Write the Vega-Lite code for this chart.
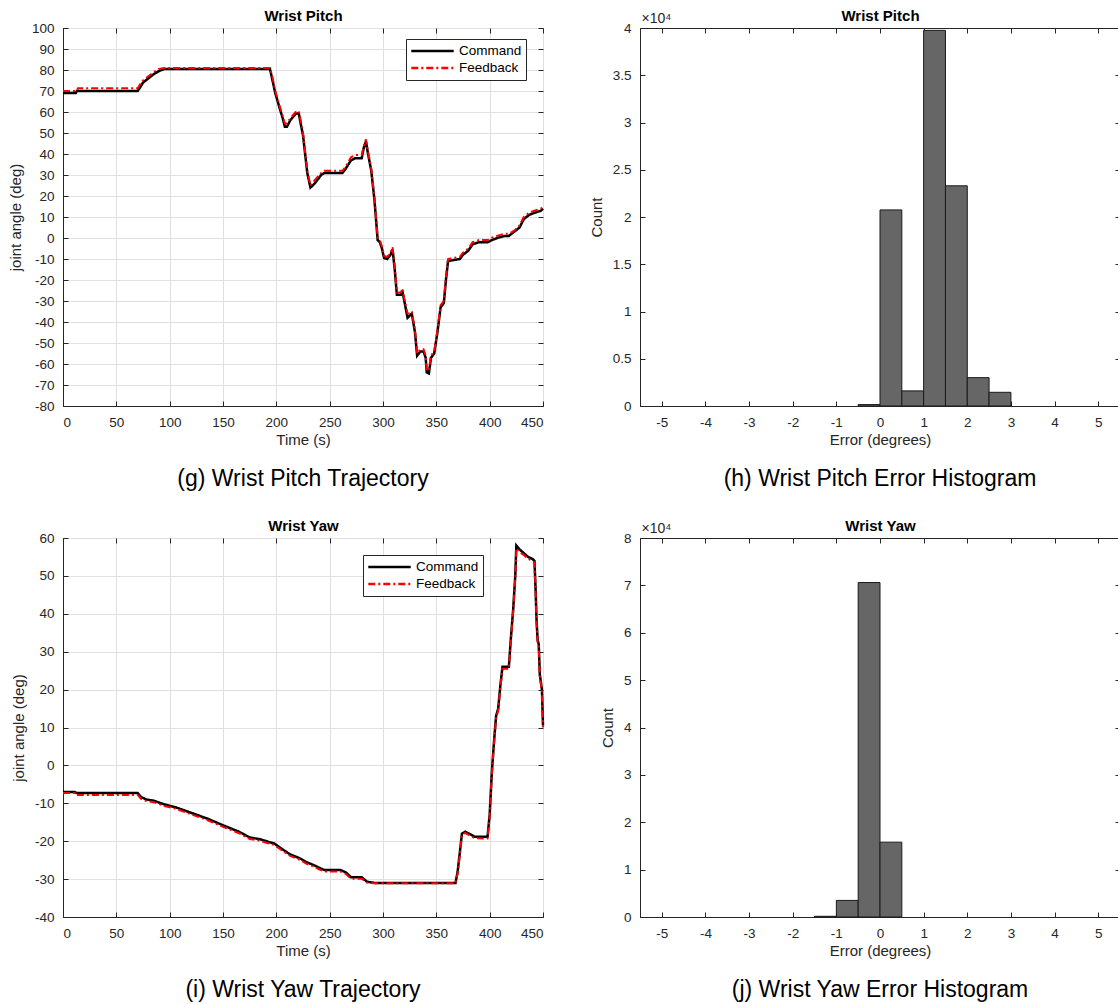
{
  "$schema": "https://vega.github.io/schema/vega-lite/v6.json",
  "background": "white",
  "padding": {"left": 7, "top": 8, "right": 0, "bottom": 0},
  "config": {
    "font": "Liberation Sans",
    "view": {"stroke": "#262626", "strokeWidth": 1},
    "axis": {"labelFontSize": 13.5, "labelColor": "#262626", "labelOverlap": false, "labelBound": false, "titleFontSize": 15, "titleFontWeight": "normal", "titleColor": "#262626", "domainColor": "#262626", "tickColor": "#262626", "gridColor": "#dfdfdf", "gridOpacity": 1, "gridWidth": 1, "tickSize": -5, "labelExpr": "'' + datum.value"},
    "legend": {"fillColor": "#ffffff", "strokeColor": "#262626", "padding": 4, "labelFontSize": 13.5, "labelColor": "#000000", "symbolType": "stroke", "symbolSize": 1800, "clipHeight": 16, "rowPadding": 1, "symbolStrokeWidth": 2.5, "labelOffset": 4, "cornerRadius": 0}
  },
  "resolve": {"scale": {"color": "independent", "strokeDash": "independent"}, "legend": {"color": "independent", "strokeDash": "independent"}},
  "datasets": {
    "pitch": [
      {"t":0,"v":69,"s":"Command"},{"t":12,"v":69,"s":"Command"},{"t":13,"v":70,"s":"Command"},{"t":70,"v":70,"s":"Command"},{"t":72,"v":71.5,"s":"Command"},{"t":75,"v":74,"s":"Command"},{"t":80,"v":76,"s":"Command"},{"t":85,"v":78,"s":"Command"},{"t":90,"v":79.5,"s":"Command"},{"t":95,"v":80.5,"s":"Command"},{"t":194,"v":80.5,"s":"Command"},{"t":196,"v":76,"s":"Command"},{"t":199,"v":69,"s":"Command"},{"t":203,"v":62,"s":"Command"},{"t":206,"v":57,"s":"Command"},{"t":208,"v":53,"s":"Command"},{"t":210,"v":53,"s":"Command"},{"t":213,"v":56,"s":"Command"},{"t":218,"v":59,"s":"Command"},{"t":221,"v":59.5,"s":"Command"},{"t":223,"v":54,"s":"Command"},{"t":225,"v":49,"s":"Command"},{"t":227,"v":40,"s":"Command"},{"t":229,"v":31,"s":"Command"},{"t":232,"v":24,"s":"Command"},{"t":236,"v":26,"s":"Command"},{"t":242,"v":30,"s":"Command"},{"t":245,"v":31,"s":"Command"},{"t":262,"v":31,"s":"Command"},{"t":265,"v":33,"s":"Command"},{"t":270,"v":37,"s":"Command"},{"t":274,"v":38,"s":"Command"},{"t":280,"v":38,"s":"Command"},{"t":282,"v":43,"s":"Command"},{"t":284,"v":46,"s":"Command"},{"t":286,"v":40,"s":"Command"},{"t":289,"v":32,"s":"Command"},{"t":292,"v":18,"s":"Command"},{"t":295,"v":-1,"s":"Command"},{"t":297,"v":-2,"s":"Command"},{"t":299,"v":-5,"s":"Command"},{"t":301,"v":-9.5,"s":"Command"},{"t":304,"v":-10,"s":"Command"},{"t":307,"v":-8,"s":"Command"},{"t":309,"v":-5.5,"s":"Command"},{"t":311,"v":-15,"s":"Command"},{"t":313,"v":-27,"s":"Command"},{"t":317,"v":-27,"s":"Command"},{"t":318,"v":-25,"s":"Command"},{"t":320,"v":-30,"s":"Command"},{"t":323,"v":-38,"s":"Command"},{"t":325,"v":-37,"s":"Command"},{"t":327,"v":-36,"s":"Command"},{"t":330,"v":-45,"s":"Command"},{"t":332,"v":-56,"s":"Command"},{"t":335,"v":-54,"s":"Command"},{"t":338,"v":-54,"s":"Command"},{"t":340,"v":-57,"s":"Command"},{"t":341,"v":-64,"s":"Command"},{"t":343,"v":-64.5,"s":"Command"},{"t":345,"v":-57,"s":"Command"},{"t":348,"v":-55,"s":"Command"},{"t":351,"v":-45,"s":"Command"},{"t":354,"v":-33,"s":"Command"},{"t":357,"v":-31,"s":"Command"},{"t":359,"v":-20,"s":"Command"},{"t":361,"v":-11,"s":"Command"},{"t":366,"v":-10.5,"s":"Command"},{"t":372,"v":-10,"s":"Command"},{"t":375,"v":-8,"s":"Command"},{"t":380,"v":-6,"s":"Command"},{"t":384,"v":-3,"s":"Command"},{"t":390,"v":-2,"s":"Command"},{"t":398,"v":-2,"s":"Command"},{"t":402,"v":-1,"s":"Command"},{"t":410,"v":0.5,"s":"Command"},{"t":414,"v":1,"s":"Command"},{"t":418,"v":1,"s":"Command"},{"t":423,"v":3,"s":"Command"},{"t":428,"v":5,"s":"Command"},{"t":432,"v":9,"s":"Command"},{"t":437,"v":11,"s":"Command"},{"t":442,"v":12,"s":"Command"},{"t":448,"v":13,"s":"Command"},{"t":450,"v":14,"s":"Command"},
      {"t":0,"v":70,"s":"Feedback"},{"t":13,"v":70,"s":"Feedback"},{"t":14,"v":71.3,"s":"Feedback"},{"t":70,"v":71.3,"s":"Feedback"},{"t":72,"v":73,"s":"Feedback"},{"t":75,"v":75,"s":"Feedback"},{"t":80,"v":77,"s":"Feedback"},{"t":85,"v":79,"s":"Feedback"},{"t":90,"v":80.5,"s":"Feedback"},{"t":95,"v":81,"s":"Feedback"},{"t":194,"v":81,"s":"Feedback"},{"t":196,"v":77.5,"s":"Feedback"},{"t":199,"v":70,"s":"Feedback"},{"t":203,"v":63,"s":"Feedback"},{"t":206,"v":58,"s":"Feedback"},{"t":208,"v":54.5,"s":"Feedback"},{"t":210,"v":54.5,"s":"Feedback"},{"t":213,"v":57,"s":"Feedback"},{"t":218,"v":60,"s":"Feedback"},{"t":221,"v":60.5,"s":"Feedback"},{"t":223,"v":55.5,"s":"Feedback"},{"t":225,"v":50,"s":"Feedback"},{"t":227,"v":41,"s":"Feedback"},{"t":229,"v":32,"s":"Feedback"},{"t":232,"v":25,"s":"Feedback"},{"t":236,"v":27.5,"s":"Feedback"},{"t":242,"v":31,"s":"Feedback"},{"t":245,"v":32,"s":"Feedback"},{"t":262,"v":32,"s":"Feedback"},{"t":265,"v":34,"s":"Feedback"},{"t":270,"v":38.5,"s":"Feedback"},{"t":274,"v":39.5,"s":"Feedback"},{"t":280,"v":39.5,"s":"Feedback"},{"t":282,"v":44,"s":"Feedback"},{"t":284,"v":47,"s":"Feedback"},{"t":286,"v":41,"s":"Feedback"},{"t":289,"v":33,"s":"Feedback"},{"t":292,"v":19,"s":"Feedback"},{"t":295,"v":0,"s":"Feedback"},{"t":297,"v":-1,"s":"Feedback"},{"t":299,"v":-4,"s":"Feedback"},{"t":301,"v":-8.5,"s":"Feedback"},{"t":304,"v":-9,"s":"Feedback"},{"t":307,"v":-7,"s":"Feedback"},{"t":309,"v":-4.5,"s":"Feedback"},{"t":311,"v":-14,"s":"Feedback"},{"t":313,"v":-26,"s":"Feedback"},{"t":317,"v":-26,"s":"Feedback"},{"t":318,"v":-24,"s":"Feedback"},{"t":320,"v":-29,"s":"Feedback"},{"t":323,"v":-36,"s":"Feedback"},{"t":325,"v":-36,"s":"Feedback"},{"t":327,"v":-35,"s":"Feedback"},{"t":330,"v":-44,"s":"Feedback"},{"t":332,"v":-55,"s":"Feedback"},{"t":335,"v":-53,"s":"Feedback"},{"t":338,"v":-53,"s":"Feedback"},{"t":340,"v":-56,"s":"Feedback"},{"t":341,"v":-63,"s":"Feedback"},{"t":343,"v":-63,"s":"Feedback"},{"t":345,"v":-56,"s":"Feedback"},{"t":348,"v":-54,"s":"Feedback"},{"t":351,"v":-44,"s":"Feedback"},{"t":354,"v":-32,"s":"Feedback"},{"t":357,"v":-30,"s":"Feedback"},{"t":359,"v":-19,"s":"Feedback"},{"t":361,"v":-10,"s":"Feedback"},{"t":366,"v":-9.5,"s":"Feedback"},{"t":372,"v":-9,"s":"Feedback"},{"t":375,"v":-7,"s":"Feedback"},{"t":380,"v":-5,"s":"Feedback"},{"t":384,"v":-2,"s":"Feedback"},{"t":390,"v":-1,"s":"Feedback"},{"t":398,"v":-1,"s":"Feedback"},{"t":402,"v":0.2,"s":"Feedback"},{"t":410,"v":1.5,"s":"Feedback"},{"t":414,"v":2,"s":"Feedback"},{"t":418,"v":2,"s":"Feedback"},{"t":423,"v":3.5,"s":"Feedback"},{"t":428,"v":6,"s":"Feedback"},{"t":432,"v":10,"s":"Feedback"},{"t":437,"v":12,"s":"Feedback"},{"t":442,"v":13,"s":"Feedback"},{"t":448,"v":14,"s":"Feedback"},{"t":450,"v":15,"s":"Feedback"}
    ],
    "yaw": [
      {"t":0,"v":-7,"s":"Command"},{"t":11,"v":-7,"s":"Command"},{"t":13,"v":-7.3,"s":"Command"},{"t":70,"v":-7.3,"s":"Command"},{"t":73,"v":-8.3,"s":"Command"},{"t":78,"v":-9,"s":"Command"},{"t":85,"v":-9.3,"s":"Command"},{"t":95,"v":-10.3,"s":"Command"},{"t":105,"v":-11,"s":"Command"},{"t":120,"v":-12.5,"s":"Command"},{"t":135,"v":-14,"s":"Command"},{"t":150,"v":-15.8,"s":"Command"},{"t":165,"v":-17.5,"s":"Command"},{"t":175,"v":-19,"s":"Command"},{"t":185,"v":-19.5,"s":"Command"},{"t":193,"v":-20.2,"s":"Command"},{"t":198,"v":-20.6,"s":"Command"},{"t":205,"v":-22,"s":"Command"},{"t":213,"v":-23.5,"s":"Command"},{"t":222,"v":-24.5,"s":"Command"},{"t":228,"v":-25.5,"s":"Command"},{"t":235,"v":-26.3,"s":"Command"},{"t":240,"v":-27,"s":"Command"},{"t":245,"v":-27.6,"s":"Command"},{"t":260,"v":-27.6,"s":"Command"},{"t":265,"v":-28.2,"s":"Command"},{"t":270,"v":-29.5,"s":"Command"},{"t":280,"v":-29.5,"s":"Command"},{"t":285,"v":-30.7,"s":"Command"},{"t":292,"v":-31,"s":"Command"},{"t":368,"v":-31,"s":"Command"},{"t":370,"v":-28,"s":"Command"},{"t":372,"v":-23,"s":"Command"},{"t":374,"v":-18,"s":"Command"},{"t":377,"v":-17.5,"s":"Command"},{"t":382,"v":-18.2,"s":"Command"},{"t":386,"v":-18.8,"s":"Command"},{"t":398,"v":-18.8,"s":"Command"},{"t":400,"v":-13,"s":"Command"},{"t":402,"v":-2,"s":"Command"},{"t":404,"v":6,"s":"Command"},{"t":406,"v":13,"s":"Command"},{"t":408,"v":15,"s":"Command"},{"t":410,"v":21,"s":"Command"},{"t":412,"v":26,"s":"Command"},{"t":418,"v":26,"s":"Command"},{"t":420,"v":34,"s":"Command"},{"t":422,"v":41,"s":"Command"},{"t":424,"v":50,"s":"Command"},{"t":425,"v":58,"s":"Command"},{"t":428,"v":57,"s":"Command"},{"t":432,"v":56,"s":"Command"},{"t":436,"v":55,"s":"Command"},{"t":440,"v":54.5,"s":"Command"},{"t":442,"v":54,"s":"Command"},{"t":443,"v":47,"s":"Command"},{"t":444,"v":38,"s":"Command"},{"t":445,"v":33,"s":"Command"},{"t":446,"v":32,"s":"Command"},{"t":447,"v":24,"s":"Command"},{"t":449,"v":20,"s":"Command"},{"t":450,"v":10.5,"s":"Command"},
      {"t":0,"v":-7.3,"s":"Feedback"},{"t":12,"v":-7.3,"s":"Feedback"},{"t":13,"v":-7.8,"s":"Feedback"},{"t":70,"v":-7.8,"s":"Feedback"},{"t":73,"v":-8.8,"s":"Feedback"},{"t":78,"v":-9.4,"s":"Feedback"},{"t":85,"v":-9.7,"s":"Feedback"},{"t":95,"v":-10.7,"s":"Feedback"},{"t":105,"v":-11.4,"s":"Feedback"},{"t":120,"v":-12.9,"s":"Feedback"},{"t":135,"v":-14.4,"s":"Feedback"},{"t":150,"v":-16.2,"s":"Feedback"},{"t":165,"v":-17.9,"s":"Feedback"},{"t":175,"v":-19.4,"s":"Feedback"},{"t":185,"v":-19.9,"s":"Feedback"},{"t":193,"v":-20.6,"s":"Feedback"},{"t":198,"v":-21,"s":"Feedback"},{"t":205,"v":-22.4,"s":"Feedback"},{"t":213,"v":-23.9,"s":"Feedback"},{"t":222,"v":-24.9,"s":"Feedback"},{"t":228,"v":-25.9,"s":"Feedback"},{"t":235,"v":-26.7,"s":"Feedback"},{"t":240,"v":-27.4,"s":"Feedback"},{"t":245,"v":-28,"s":"Feedback"},{"t":260,"v":-28,"s":"Feedback"},{"t":265,"v":-28.6,"s":"Feedback"},{"t":270,"v":-29.9,"s":"Feedback"},{"t":280,"v":-29.9,"s":"Feedback"},{"t":285,"v":-30.9,"s":"Feedback"},{"t":292,"v":-31.1,"s":"Feedback"},{"t":368,"v":-31.1,"s":"Feedback"},{"t":370,"v":-28.5,"s":"Feedback"},{"t":372,"v":-23.5,"s":"Feedback"},{"t":374,"v":-18.3,"s":"Feedback"},{"t":377,"v":-17.8,"s":"Feedback"},{"t":382,"v":-18.6,"s":"Feedback"},{"t":386,"v":-19.2,"s":"Feedback"},{"t":398,"v":-19.3,"s":"Feedback"},{"t":400,"v":-13.5,"s":"Feedback"},{"t":402,"v":-2.5,"s":"Feedback"},{"t":404,"v":5.5,"s":"Feedback"},{"t":406,"v":12.5,"s":"Feedback"},{"t":408,"v":14.5,"s":"Feedback"},{"t":410,"v":20.5,"s":"Feedback"},{"t":412,"v":25.5,"s":"Feedback"},{"t":418,"v":25.5,"s":"Feedback"},{"t":420,"v":33.5,"s":"Feedback"},{"t":422,"v":40.5,"s":"Feedback"},{"t":424,"v":49.5,"s":"Feedback"},{"t":425,"v":57.3,"s":"Feedback"},{"t":428,"v":56.3,"s":"Feedback"},{"t":432,"v":55.5,"s":"Feedback"},{"t":436,"v":54.5,"s":"Feedback"},{"t":440,"v":54,"s":"Feedback"},{"t":442,"v":53.5,"s":"Feedback"},{"t":443,"v":46.5,"s":"Feedback"},{"t":444,"v":37.5,"s":"Feedback"},{"t":445,"v":32.5,"s":"Feedback"},{"t":446,"v":31.5,"s":"Feedback"},{"t":447,"v":23.5,"s":"Feedback"},{"t":449,"v":19.5,"s":"Feedback"},{"t":450,"v":10,"s":"Feedback"}
    ],
    "pitchHist": [
      {"lo":-0.5,"hi":0,"n":150},{"lo":0,"hi":0.5,"n":20750},{"lo":0.5,"hi":1,"n":1600},{"lo":1,"hi":1.5,"n":39750},{"lo":1.5,"hi":2,"n":23300},{"lo":2,"hi":2.5,"n":3000},{"lo":2.5,"hi":3,"n":1450}
    ],
    "yawHist": [
      {"lo":-1.5,"hi":-1,"n":150},{"lo":-1,"hi":-0.5,"n":3500},{"lo":-0.5,"hi":0,"n":70600},{"lo":0,"hi":0.5,"n":15800}
    ]
  },
  "concat": [
    {
      "width": 480, "height": 378,
      "title": {"text": "(g) Wrist Pitch Trajectory", "orient": "bottom", "anchor": "middle", "fontSize": 23, "fontWeight": "normal", "color": "#000000", "offset": 20},
      "layer": [
        {
          "layer": [
            {"data": {"name": "pitch"}, "transform": [{"filter": "datum.s === 'Command'"}], "mark": {"type": "line", "strokeWidth": 2.5},
             "encoding": {
               "x": {"field": "t", "type": "quantitative", "scale": {"domain": [0, 450], "nice": false, "zero": false}, "axis": {"values": [0,50,100,150,200,250,300,350,400,450], "title": "Time (s)", "grid": true, "labelOverlap": false, "labelPadding": 14, "titlePadding": 4}},
               "y": {"field": "v", "type": "quantitative", "scale": {"domain": [-80, 100], "nice": false, "zero": false}, "axis": {"values": [-80,-70,-60,-50,-40,-30,-20,-10,0,10,20,30,40,50,60,70,80,90,100], "title": "joint angle (deg)", "grid": true, "labelOverlap": false, "labelPadding": 14, "titlePadding": 8}},
               "color": {"field": "s", "type": "nominal", "scale": {"domain": ["Command", "Feedback"], "range": ["#000000", "#ff0000"]}, "legend": {"title": null, "orient": "none", "legendX": 343, "legendY": 11}},
               "strokeDash": {"field": "s", "type": "nominal", "scale": {"domain": ["Command", "Feedback"], "range": [[1, 0], [7, 3, 2, 3]]}, "legend": {"title": null, "orient": "none", "legendX": 343, "legendY": 11}}
             }},
            {"data": {"name": "pitch"}, "transform": [{"filter": "datum.s === 'Feedback'"}], "mark": {"type": "line", "strokeWidth": 2},
             "encoding": {
               "x": {"field": "t", "type": "quantitative", "scale": {"domain": [0, 450], "nice": false, "zero": false}, "axis": {"values": [0,50,100,150,200,250,300,350,400,450], "title": "Time (s)", "grid": true, "labelOverlap": false, "labelPadding": 14, "titlePadding": 4}},
               "y": {"field": "v", "type": "quantitative", "scale": {"domain": [-80, 100], "nice": false, "zero": false}, "axis": {"values": [-80,-70,-60,-50,-40,-30,-20,-10,0,10,20,30,40,50,60,70,80,90,100], "title": "joint angle (deg)", "grid": true, "labelOverlap": false, "labelPadding": 14, "titlePadding": 8}},
               "color": {"field": "s", "type": "nominal", "scale": {"domain": ["Command", "Feedback"], "range": ["#000000", "#ff0000"]}, "legend": {"title": null, "orient": "none", "legendX": 343, "legendY": 11}},
               "strokeDash": {"field": "s", "type": "nominal", "scale": {"domain": ["Command", "Feedback"], "range": [[1, 0], [7, 3, 2, 3]]}, "legend": {"title": null, "orient": "none", "legendX": 343, "legendY": 11}}
             }}
          ]
        },
        {"data": {"name": "pitch"}, "mark": {"type": "line", "opacity": 0},
         "encoding": {
           "x": {"field": "t", "type": "quantitative", "scale": {"domain": [0, 450], "nice": false, "zero": false}, "axis": {"orient": "top", "values": [0,50,100,150,200,250,300,350,400,450], "labels": false, "domain": false, "grid": false, "title": "Wrist Pitch", "titleFontWeight": "bold", "titleFontSize": 15, "titleColor": "#000000", "titlePadding": 4}},
           "y": {"field": "v", "type": "quantitative", "scale": {"domain": [-80, 100], "nice": false, "zero": false}, "axis": {"orient": "right", "values": [-80,-70,-60,-50,-40,-30,-20,-10,0,10,20,30,40,50,60,70,80,90,100], "labels": false, "domain": false, "grid": false, "title": null}},
           "detail": {"field": "s"}
         }}
      ],
      "resolve": {"scale": {"x": "independent", "y": "independent"}}
    },
    {
      "width": 480, "height": 378,
      "title": {"text": "(h) Wrist Pitch Error Histogram", "orient": "bottom", "anchor": "middle", "fontSize": 23, "fontWeight": "normal", "color": "#000000", "offset": 20},
      "layer": [
        {"data": {"name": "pitchHist"}, "mark": {"type": "rect", "fill": "#666666", "stroke": "#1a1a1a", "strokeWidth": 1},
         "encoding": {
           "x": {"field": "lo", "type": "quantitative", "scale": {"domain": [-5.5, 5.5], "nice": false, "zero": false}, "axis": {"values": [-5,-4,-3,-2,-1,0,1,2,3,4,5], "title": "Error (degrees)", "grid": false, "labelOverlap": false, "labelPadding": 14, "titlePadding": 4}},
           "x2": {"field": "hi"},
           "y": {"field": "n", "type": "quantitative", "scale": {"domain": [0, 40000], "nice": false}, "axis": {"values": [0,5000,10000,15000,20000,25000,30000,35000,40000], "labelExpr": "'' + (datum.value / 10000)", "title": "Count", "grid": false, "labelOverlap": false, "labelPadding": 14, "titlePadding": 8}},
           "y2": {"datum": 0}
         }},
        {"data": {"name": "pitchHist"}, "mark": {"type": "rect", "opacity": 0},
         "encoding": {
           "x": {"field": "lo", "type": "quantitative", "scale": {"domain": [-5.5, 5.5], "nice": false, "zero": false}, "axis": {"orient": "top", "values": [-5,-4,-3,-2,-1,0,1,2,3,4,5], "labels": false, "domain": false, "grid": false, "title": "Wrist Pitch", "titleFontWeight": "bold", "titleFontSize": 15, "titleColor": "#000000", "titlePadding": 4}},
           "x2": {"field": "hi"},
           "y": {"field": "n", "type": "quantitative", "scale": {"domain": [0, 40000], "nice": false}, "axis": {"orient": "right", "values": [0,5000,10000,15000,20000,25000,30000,35000,40000], "labels": false, "domain": false, "grid": false, "title": "×10⁴", "titleAngle": 0, "titleX": -479, "titleY": -3, "titleAlign": "left", "titleBaseline": "bottom", "titleFontSize": 14}},
           "y2": {"datum": 0}
         }}
      ],
      "resolve": {"scale": {"x": "independent", "y": "independent"}}
    },
    {
      "width": 480, "height": 379,
      "title": {"text": "(i) Wrist Yaw Trajectory", "orient": "bottom", "anchor": "middle", "fontSize": 23, "fontWeight": "normal", "color": "#000000", "offset": 20},
      "layer": [
        {
          "layer": [
            {"data": {"name": "yaw"}, "transform": [{"filter": "datum.s === 'Command'"}], "mark": {"type": "line", "strokeWidth": 2.5},
             "encoding": {
               "x": {"field": "t", "type": "quantitative", "scale": {"domain": [0, 450], "nice": false, "zero": false}, "axis": {"values": [0,50,100,150,200,250,300,350,400,450], "title": "Time (s)", "grid": true, "labelOverlap": false, "labelPadding": 14, "titlePadding": 4}},
               "y": {"field": "v", "type": "quantitative", "scale": {"domain": [-40, 60], "nice": false, "zero": false}, "axis": {"values": [-40,-30,-20,-10,0,10,20,30,40,50,60], "title": "joint angle (deg)", "grid": true, "labelOverlap": false, "labelPadding": 14, "titlePadding": 8}},
               "color": {"field": "s", "type": "nominal", "scale": {"domain": ["Command", "Feedback"], "range": ["#000000", "#ff0000"]}, "legend": {"title": null, "orient": "none", "legendX": 300, "legendY": 17}},
               "strokeDash": {"field": "s", "type": "nominal", "scale": {"domain": ["Command", "Feedback"], "range": [[1, 0], [7, 3, 2, 3]]}, "legend": {"title": null, "orient": "none", "legendX": 300, "legendY": 17}}
             }},
            {"data": {"name": "yaw"}, "transform": [{"filter": "datum.s === 'Feedback'"}], "mark": {"type": "line", "strokeWidth": 2},
             "encoding": {
               "x": {"field": "t", "type": "quantitative", "scale": {"domain": [0, 450], "nice": false, "zero": false}, "axis": {"values": [0,50,100,150,200,250,300,350,400,450], "title": "Time (s)", "grid": true, "labelOverlap": false, "labelPadding": 14, "titlePadding": 4}},
               "y": {"field": "v", "type": "quantitative", "scale": {"domain": [-40, 60], "nice": false, "zero": false}, "axis": {"values": [-40,-30,-20,-10,0,10,20,30,40,50,60], "title": "joint angle (deg)", "grid": true, "labelOverlap": false, "labelPadding": 14, "titlePadding": 8}},
               "color": {"field": "s", "type": "nominal", "scale": {"domain": ["Command", "Feedback"], "range": ["#000000", "#ff0000"]}, "legend": {"title": null, "orient": "none", "legendX": 300, "legendY": 17}},
               "strokeDash": {"field": "s", "type": "nominal", "scale": {"domain": ["Command", "Feedback"], "range": [[1, 0], [7, 3, 2, 3]]}, "legend": {"title": null, "orient": "none", "legendX": 300, "legendY": 17}}
             }}
          ]
        },
        {"data": {"name": "yaw"}, "mark": {"type": "line", "opacity": 0},
         "encoding": {
           "x": {"field": "t", "type": "quantitative", "scale": {"domain": [0, 450], "nice": false, "zero": false}, "axis": {"orient": "top", "values": [0,50,100,150,200,250,300,350,400,450], "labels": false, "domain": false, "grid": false, "title": "Wrist Yaw", "titleFontWeight": "bold", "titleFontSize": 15, "titleColor": "#000000", "titlePadding": 4}},
           "y": {"field": "v", "type": "quantitative", "scale": {"domain": [-40, 60], "nice": false, "zero": false}, "axis": {"orient": "right", "values": [-40,-30,-20,-10,0,10,20,30,40,50,60], "labels": false, "domain": false, "grid": false, "title": null}},
           "detail": {"field": "s"}
         }}
      ],
      "resolve": {"scale": {"x": "independent", "y": "independent"}}
    },
    {
      "width": 480, "height": 379,
      "title": {"text": "(j) Wrist Yaw Error Histogram", "orient": "bottom", "anchor": "middle", "fontSize": 23, "fontWeight": "normal", "color": "#000000", "offset": 20},
      "layer": [
        {"data": {"name": "yawHist"}, "mark": {"type": "rect", "fill": "#666666", "stroke": "#1a1a1a", "strokeWidth": 1},
         "encoding": {
           "x": {"field": "lo", "type": "quantitative", "scale": {"domain": [-5.5, 5.5], "nice": false, "zero": false}, "axis": {"values": [-5,-4,-3,-2,-1,0,1,2,3,4,5], "title": "Error (degrees)", "grid": false, "labelOverlap": false, "labelPadding": 14, "titlePadding": 4}},
           "x2": {"field": "hi"},
           "y": {"field": "n", "type": "quantitative", "scale": {"domain": [0, 80000], "nice": false}, "axis": {"values": [0,10000,20000,30000,40000,50000,60000,70000,80000], "labelExpr": "'' + (datum.value / 10000)", "title": "Count", "grid": false, "labelOverlap": false, "labelPadding": 14, "titlePadding": 8}},
           "y2": {"datum": 0}
         }},
        {"data": {"name": "yawHist"}, "mark": {"type": "rect", "opacity": 0},
         "encoding": {
           "x": {"field": "lo", "type": "quantitative", "scale": {"domain": [-5.5, 5.5], "nice": false, "zero": false}, "axis": {"orient": "top", "values": [-5,-4,-3,-2,-1,0,1,2,3,4,5], "labels": false, "domain": false, "grid": false, "title": "Wrist Yaw", "titleFontWeight": "bold", "titleFontSize": 15, "titleColor": "#000000", "titlePadding": 4}},
           "x2": {"field": "hi"},
           "y": {"field": "n", "type": "quantitative", "scale": {"domain": [0, 80000], "nice": false}, "axis": {"orient": "right", "values": [0,10000,20000,30000,40000,50000,60000,70000,80000], "labels": false, "domain": false, "grid": false, "title": "×10⁴", "titleAngle": 0, "titleX": -479, "titleY": -3, "titleAlign": "left", "titleBaseline": "bottom", "titleFontSize": 14}},
           "y2": {"datum": 0}
         }}
      ],
      "resolve": {"scale": {"x": "independent", "y": "independent"}}
    }
  ],
  "columns": 2,
  "spacing": {"row": 27, "column": 39}
}
